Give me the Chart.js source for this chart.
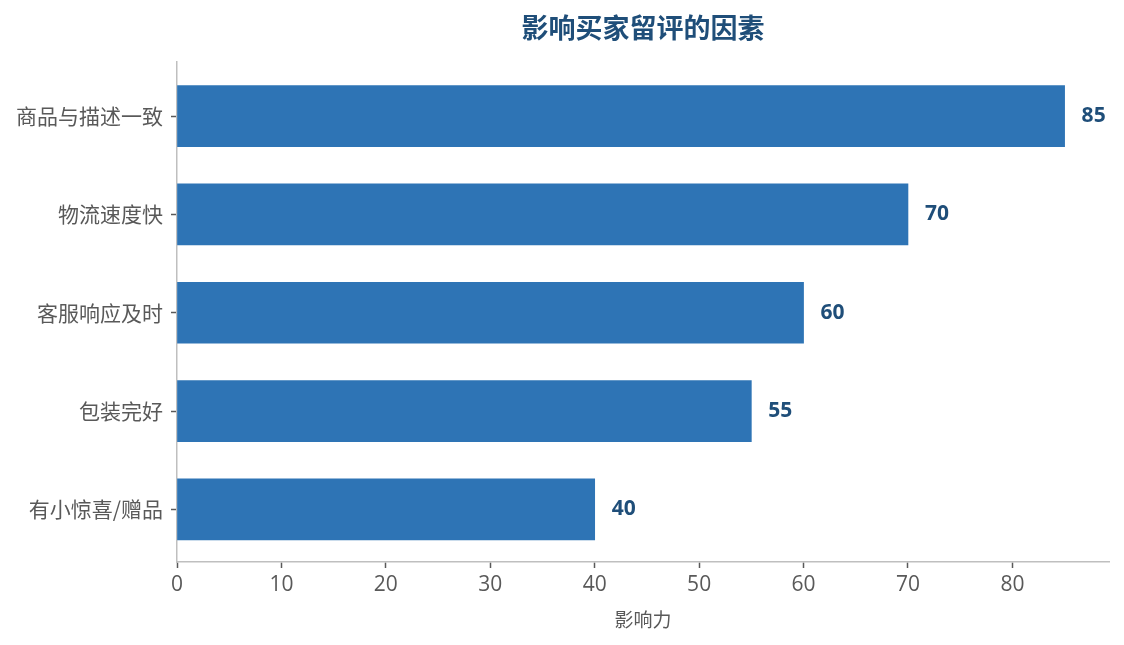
<!DOCTYPE html>
<html>
<head>
<meta charset="utf-8">
<script src="https://cdn.jsdelivr.net/npm/chart.js@4"></script>
<style>
html,body{margin:0;padding:0;background:#fff;}
#wrap{width:1124px;height:645px;position:relative;}
</style>
</head>
<body>
<div id="wrap"><canvas id="c" width="1124" height="645"></canvas></div>
<script>
const categories = ['商品与描述一致', '物流速度快', '客服响应及时', '包装完好', '有小惊喜/赠品'];
const values = [85, 70, 60, 55, 40];
const xTicks = [0, 10, 20, 30, 40, 50, 60, 70, 80];
const chartTitle = '影响买家留评的因素';
const xTitle = '影响力';

const FONT = '"Noto Sans CJK SC", "Noto Sans", sans-serif';
const NUMFONT = '"Open Sans", "Noto Sans CJK SC", sans-serif';
const dataPts = values.map((v, i) => ({ x: v, y: i }));

const valueLabels = {
  id: 'valueLabels',
  afterDatasetsDraw(chart) {
    const ctx = chart.ctx;
    const meta = chart.getDatasetMeta(0);
    ctx.save();
    ctx.font = 'bold 21px ' + NUMFONT;
    ctx.fillStyle = '#1F4E79';
    ctx.textAlign = 'left';
    ctx.textBaseline = 'middle';
    meta.data.forEach((bar, i) => {
      ctx.fillText(String(values[i]), bar.x + 17, bar.y);
    });
    ctx.restore();
  }
};

new Chart(document.getElementById('c'), {
  type: 'bar',
  data: {
    datasets: [{
      data: dataPts,
      backgroundColor: '#2E74B5',
      borderWidth: 0,
      barThickness: 61
    }]
  },
  plugins: [valueLabels],
  options: {
    indexAxis: 'y',
    responsive: false,
    animation: false,
    parsing: { xAxisKey: 'x', yAxisKey: 'y' },
    layout: { padding: { left: 0, right: 15, top: 0, bottom: 0 } },
    plugins: {
      legend: { display: false },
      tooltip: { enabled: false },
      title: {
        display: true,
        text: chartTitle,
        fullSize: false,
        color: '#1F4E79',
        font: { family: FONT, size: 27, weight: 'bold', lineHeight: 1.2 },
        padding: { top: 12, bottom: 17.6 }
      }
    },
    scales: {
      x: {
        type: 'linear',
        min: 0,
        max: 89.25,
        afterBuildTicks(scale) { scale.ticks = xTicks.map(v => ({ value: v })); },
        afterFit(scale) { scale.height = 83; },
        grid: { display: true, drawOnChartArea: false, drawTicks: true, tickLength: 6, tickColor: '#595959', tickWidth: 1.5 },
        border: { display: true, color: '#BFBFBF', width: 1.5 },
        ticks: { color: '#595959', font: { family: NUMFONT, size: 21 }, padding: 4 },
        title: { display: true, text: xTitle, color: '#595959', font: { family: FONT, size: 19 }, padding: { top: 0, bottom: 14 } }
      },
      y: {
        type: 'linear',
        reverse: true,
        offset: false,
        min: -0.55,
        max: 4.535,
        afterBuildTicks(scale) { scale.ticks = categories.map((c, i) => ({ value: i })); },
        afterFit(scale) { scale.width = 177; },
        grid: { display: true, offset: false, drawOnChartArea: false, drawTicks: true, tickLength: 6, tickColor: '#595959', tickWidth: 1.5 },
        border: { display: true, color: '#BFBFBF', width: 1.5 },
        ticks: {
          color: '#595959',
          font: { family: FONT, size: 21 },
          padding: 8,
          callback: (v) => categories[v] !== undefined ? categories[v] : ''
        }
      }
    }
  }
});
</script>
</body>
</html>
